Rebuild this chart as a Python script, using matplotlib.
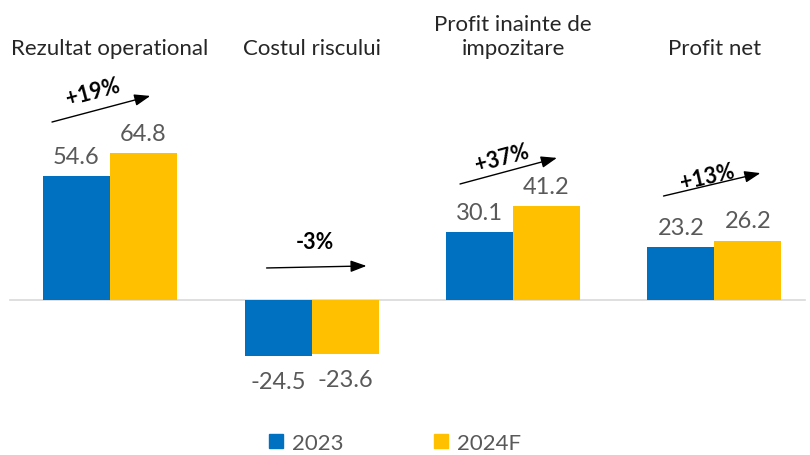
import matplotlib
matplotlib.use("Agg")
import matplotlib.pyplot as plt
from matplotlib.patches import Patch
import numpy as np

categories = ["Rezultat operational", "Costul riscului", "Profit inainte de\nimpozitare", "Profit net"]
series_names = ["2023", "2024F"]
values_2023 = [54.6, -24.5, 30.1, 23.2]
values_2024 = [64.8, -23.6, 41.2, 26.2]
growth_labels = ["+19%", "-3%", "+37%", "+13%"]
# arrow annotation geometry (data units, relative to group centre)
arrow_start = [(-0.288, 78.4), (-0.223, 14.1), (-0.263, 51.1), (-0.253, 45.8)]
arrow_end = [(0.20, 89.9), (0.273, 15.0), (0.218, 62.6), (0.228, 55.9)]
label_pos = [(-0.084, 91.8), (0.015, 25.8), (-0.055, 62.7), (-0.035, 54.6)]
label_rot = [15, 0, 15, 13]

BLUE = "#0070C0"
YELLOW = "#FFC000"
GREY = "#595959"

plt.rcParams['font.family'] = ['Lato', 'DejaVu Sans']

fig = plt.figure(figsize=(8.10, 4.56), dpi=100)
ax = fig.add_axes([0, 0, 1, 1])
x = np.arange(len(categories))
w = 0.3325
ax.bar(x - w / 2, values_2023, w, color=BLUE, zorder=2)
ax.bar(x + w / 2, values_2024, w, color=YELLOW, zorder=2)

ax.set_xlim(-0.546, 3.474)
ax.set_ylim(-68.3, 132.6)
ax.axis('off')
ax.plot([-0.496, 3.449], [0, 0], color="#D9D9D9", lw=1.2, zorder=1)

for xi, v1, v2 in zip(x, values_2023, values_2024):
    for xx, v in ((xi - w / 2, v1), (xi + w / 2, v2)):
        if v >= 0:
            ax.text(xx, v + 8.6, f"{v:.1f}", ha='center', va='center', fontsize=17, color=GREY)
        else:
            ax.text(xx, v - 11.5, f"{v:.1f}", ha='center', va='center', fontsize=17, color=GREY)

for xi, cat in zip(x, categories):
    ax.text(xi, 106.6, cat, ha='center', va='bottom', fontsize=16, color="#262626", linespacing=1.25)

for xi, s, e, lp, lab, rot in zip(x, arrow_start, arrow_end, label_pos, growth_labels, label_rot):
    ax.annotate("", xy=(xi + e[0], e[1]), xytext=(xi + s[0], s[1]),
                arrowprops=dict(arrowstyle="-|>,head_length=0.6,head_width=0.22", color="black", lw=1.0,
                                mutation_scale=16, shrinkA=0, shrinkB=0))
    ax.text(xi + lp[0], lp[1], lab, ha='center', va='center', fontsize=15.5,
            fontweight='bold', rotation=rot, color="black")

handles = [Patch(color=BLUE, label=series_names[0]), Patch(color=YELLOW, label=series_names[1])]
fig.legend(handles=handles, loc='center', bbox_to_anchor=(395 / 810, 1 - 444 / 456),
           ncol=2, frameon=False, fontsize=16, labelcolor=GREY,
           handlelength=0.6, handleheight=0.6, handletextpad=0.4, columnspacing=4.1)

fig.savefig("out.png", dpi=100)
